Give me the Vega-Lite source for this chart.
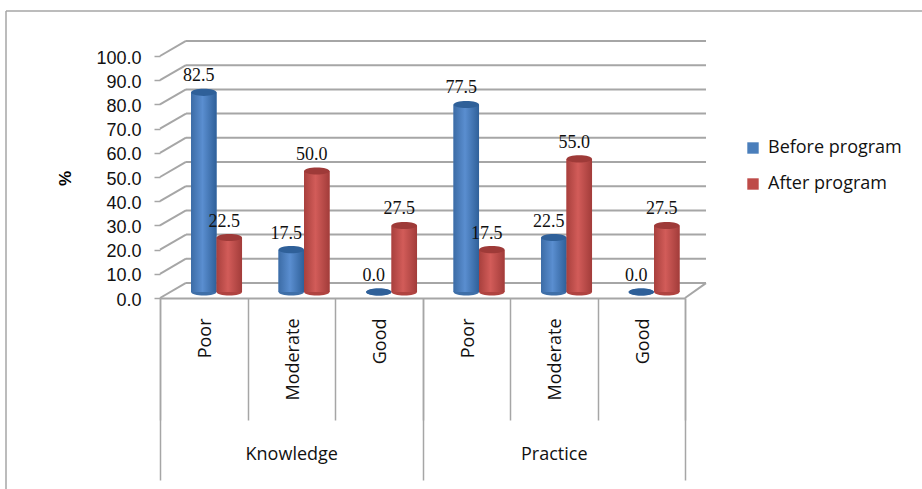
{
"$schema":"https://vega.github.io/schema/vega-lite/v6.json",
"width":525,"height":242,
"autosize":{"type":"none"},
"padding":{"left":160,"top":56,"right":237,"bottom":191},
"background":"white",
"datasets":{
"rows":[
{"key":"Knowledge|Poor","group":"Knowledge","level":"Poor","series":"Before program","v":82.5},
{"key":"Knowledge|Poor","group":"Knowledge","level":"Poor","series":"After program","v":22.5},
{"key":"Knowledge|Moderate","group":"Knowledge","level":"Moderate","series":"Before program","v":17.5},
{"key":"Knowledge|Moderate","group":"Knowledge","level":"Moderate","series":"After program","v":50.0},
{"key":"Knowledge|Good","group":"Knowledge","level":"Good","series":"Before program","v":0.0},
{"key":"Knowledge|Good","group":"Knowledge","level":"Good","series":"After program","v":27.5},
{"key":"Practice|Poor","group":"Practice","level":"Poor","series":"Before program","v":77.5},
{"key":"Practice|Poor","group":"Practice","level":"Poor","series":"After program","v":17.5},
{"key":"Practice|Moderate","group":"Practice","level":"Moderate","series":"Before program","v":22.5},
{"key":"Practice|Moderate","group":"Practice","level":"Moderate","series":"After program","v":55.0},
{"key":"Practice|Good","group":"Practice","level":"Good","series":"Before program","v":0.0},
{"key":"Practice|Good","group":"Practice","level":"Good","series":"After program","v":27.5}
],
"grid":[{"g":0},{"g":10},{"g":20},{"g":30},{"g":40},{"g":50},{"g":60},{"g":70},{"g":80},{"g":90},{"g":100}]
},
"data":{"name":"rows"},
"config":{"view":{"stroke":null},
"axisY":{"tickCount":10,"format":".1f","labelOverlap":false,"labelBound":false,"labelOffset":2,"titleFont":"Liberation Sans","titleFontWeight":"bold","titleFontSize":17,"titleColor":"#000","titleX":-86,"titleY":122,"grid":false,"domain":false,"tickColor":"#a6a6a6","tickSize":6,"tickWidth":1.5,"labelFont":"Liberation Sans","labelFontSize":18,"labelColor":"#111","labelPadding":13}},
"resolve":{"scale":{"x":"independent"},"axis":{"x":"independent"}},
"layer":[
{"data":{"name":"grid"},"mark":{"type":"rule","color":"#a6a6a6","strokeWidth":2,"yOffset":-15},
 "encoding":{"x":{"value":26},"x2":{"value":546},"y":{"field":"g","type":"quantitative","title":"%","scale":{"domain":[0,100],"nice":false}}}},
{"data":{"name":"grid"},"mark":{"type":"point","shape":"M0 0L1 -0.58","size":2704,"filled":false,"stroke":"#a6a6a6","strokeWidth":2,"opacity":1},
 "encoding":{"x":{"value":0},"y":{"field":"g","type":"quantitative","title":"%"}}},
{"data":{"values":[{"g":0}]},"mark":{"type":"point","shape":"M0 0L1 -0.71","size":1764,"filled":false,"stroke":"#a6a6a6","strokeWidth":2,"opacity":1},
 "encoding":{"x":{"value":525},"y":{"field":"g","type":"quantitative","title":"%"}}},
{"mark":{"type":"bar","opacity":0},
 "encoding":{"x":{"field":"group","type":"nominal","sort":null,"scale":{"paddingInner":0,"paddingOuter":0},
 "axis":{"orient":"bottom","title":null,"labelAngle":0,"domain":false,"tickBand":"extent","tickColor":"#a6a6a6","tickWidth":1.5,"tickSize":182,"labelPadding":-26,"labelBaseline":"middle","labelFont":"Open Sans","labelFontSize":18,"labelColor":"#111"}},
 "y":{"field":"v","type":"quantitative","title":"%"}}},
{"layer":[
{"mark":{"type":"bar","yOffset":-6},
 "encoding":{"y":{"field":"v","type":"quantitative","title":"%"},
 "color":{"field":"series","type":"nominal","scale":{"domain":["Before program","After program"],"range":["#4a7ebb","#be4b48"]},
 "legend":{"title":null,"orient":"none","legendX":584,"legendY":83,"symbolType":"square","symbolSize":130,"labelFont":"Open Sans","labelFontSize":18,"labelColor":"#111","rowPadding":18,"labelOffset":6}}}},
{"transform":[{"filter":"datum.series=='Before program'"}],"mark":{"type":"point","filled":true,"opacity":1,"shape":"M-1 0A1 0.28 0 1 1 1 0A1 0.28 0 1 1 -1 0Z","size":640,"color":"#3f6fa8","yOffset":-6},
 "encoding":{"y":{"datum":0,"title":"%"}}},
{"transform":[{"filter":"datum.series=='Before program'"}],"mark":{"type":"bar","yOffset":-6,
 "color":{"x1":0,"y1":0,"x2":1,"y2":0,"gradient":"linear","stops":[{"offset":0,"color":"#3c6ca6"},{"offset":0.45,"color":"#5a8ed0"},{"offset":1,"color":"#2f6099"}]}},
 "encoding":{"y":{"field":"v","type":"quantitative","title":"%"}}},
{"transform":[{"filter":"datum.series=='Before program'"}],"mark":{"type":"point","filled":true,"opacity":1,"shape":"M-1 0A1 0.28 0 1 1 1 0A1 0.28 0 1 1 -1 0Z","size":640,"color":"#2f6099","yOffset":-6},
 "encoding":{"y":{"field":"v","type":"quantitative","title":"%"}}},
{"transform":[{"filter":"datum.series=='After program'"}],"mark":{"type":"point","filled":true,"opacity":1,"shape":"M-1 0A1 0.28 0 1 1 1 0A1 0.28 0 1 1 -1 0Z","size":640,"color":"#b04441","yOffset":-6},
 "encoding":{"y":{"datum":0,"title":"%"}}},
{"transform":[{"filter":"datum.series=='After program'"}],"mark":{"type":"bar","yOffset":-6,
 "color":{"x1":0,"y1":0,"x2":1,"y2":0,"gradient":"linear","stops":[{"offset":0,"color":"#a8403d"},{"offset":0.45,"color":"#d25c59"},{"offset":1,"color":"#a23c3a"}]}},
 "encoding":{"y":{"field":"v","type":"quantitative","title":"%"}}},
{"transform":[{"filter":"datum.series=='After program'"}],"mark":{"type":"point","filled":true,"opacity":1,"shape":"M-1 0A1 0.28 0 1 1 1 0A1 0.28 0 1 1 -1 0Z","size":640,"color":"#9e3a38","yOffset":-6},
 "encoding":{"y":{"field":"v","type":"quantitative","title":"%"}}},
{"mark":{"type":"text","font":"Liberation Serif","fontSize":18,"color":"#111","yOffset":-6,"dx":-5,"dy":-16,"baseline":"middle"},
 "encoding":{"y":{"field":"v","type":"quantitative","title":"%"},"text":{"field":"v","type":"quantitative","format":".1f"}}}
],
"encoding":{
 "x":{"field":"key","type":"nominal","sort":null,"scale":{"paddingInner":0,"paddingOuter":0},
 "axis":{"orient":"bottom","title":null,"labelAngle":270,"labelAlign":"right","labelBaseline":"middle","labelExpr":"split(datum.label,'|')[1]","labelOverlap":false,"labelOffset":2,"domain":true,"domainColor":"#a6a6a6","domainWidth":2,"tickBand":"extent","tickColor":"#a6a6a6","tickWidth":1.5,"tickSize":122,"labelPadding":-102,"labelFont":"Open Sans","labelFontSize":18,"labelColor":"#111"}},
 "xOffset":{"field":"series","type":"nominal","scale":{"domain":["Before program","After program"],"paddingInner":0,"paddingOuter":0.716,"align":0.85}}
}
},
{"data":{"values":[{"b":"frame"}]},"mark":{"type":"rule","color":"#a6a6a6","strokeWidth":1.5},
 "encoding":{"x":{"value":-154},"y":{"value":-45},"y2":{"value":433}}},
{"data":{"values":[{"b":"frame"}]},"mark":{"type":"rule","color":"#a6a6a6","strokeWidth":1.5},
 "encoding":{"x":{"value":-154},"x2":{"value":762},"y":{"value":-45}}}
]
}
